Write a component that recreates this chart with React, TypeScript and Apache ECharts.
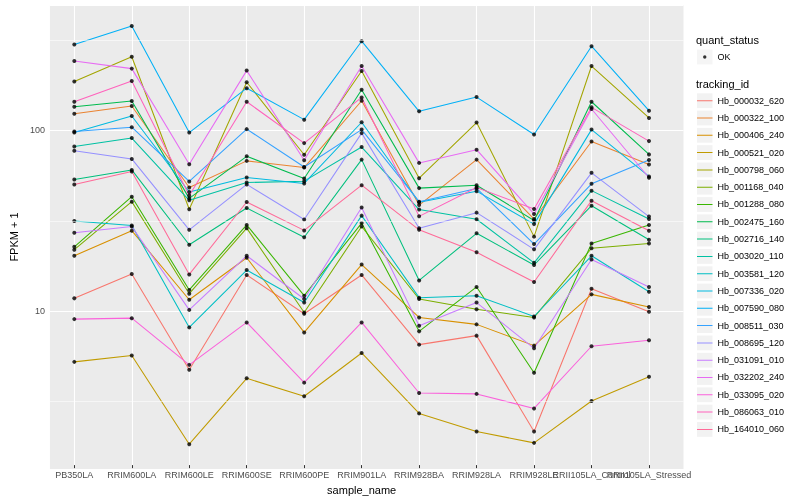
import React, { useEffect, useRef } from 'react';
import * as echarts from 'echarts';

const categories = [
  'PB350LA', 'RRIM600LA', 'RRIM600LE', 'RRIM600SE', 'RRIM600PE', 'RRIM901LA',
  'RRIM928BA', 'RRIM928LA', 'RRIM928LE', 'RRII105LA_Control', 'RRII105LA_Stressed',
];

const trackingIds = [
  'Hb_000032_620', 'Hb_000322_100', 'Hb_000406_240', 'Hb_000521_020', 'Hb_000798_060',
  'Hb_001168_040', 'Hb_001288_080', 'Hb_002475_160', 'Hb_002716_140', 'Hb_003020_110',
  'Hb_003581_120', 'Hb_007336_020', 'Hb_007590_080', 'Hb_008511_030', 'Hb_008695_120',
  'Hb_031091_010', 'Hb_032202_240', 'Hb_033095_020', 'Hb_086063_010', 'Hb_164010_060',
];

const colors = [
  '#F8766D', '#EA8331', '#D89000', '#C09B00', '#A3A500', '#7CAE00', '#39B600', '#00BB4E',
  '#00BF7D', '#00C1A3', '#00BFC4', '#00BAE0', '#00B0F6', '#35A2FF', '#9590FF', '#C77CFF',
  '#E76BF3', '#FA62DB', '#FF62BC', '#FF6A98',
];

// FPKM + 1 per sample (order of categories)
const hb_000032_620 = [11.4, 15.6, 4.55, 15.4, 9.35, 15.4, 6.29, 7.06, 2.06, 12.9, 9.59];
const hb_000322_100 = [122.3, 135.0, 47.4, 66.7, 61.2, 144.4, 37.8, 67.8, 31.6, 85.6, 63.6];
const hb_000406_240 = [19.7, 27.2, 11.2, 19.2, 7.36, 17.6, 8.92, 8.16, 6.21, 12.0, 10.2];
const hb_000521_020 = [5.04, 5.47, 1.75, 4.08, 3.24, 5.65, 2.6, 2.06, 1.78, 3.05, 4.16];
const hb_000798_060 = [184.9, 254.4, 35.8, 183.3, 72.2, 211.7, 53.4, 109.1, 25.2, 225.7, 115.8];
const hb_001168_040 = [21.3, 39.5, 12.1, 28.1, 9.5, 28.7, 11.3, 9.91, 8.92, 21.7, 23.1];
const hb_001288_080 = [22.1, 42.1, 12.7, 29.3, 11.8, 30.0, 7.46, 13.2, 4.38, 23.1, 29.3];
const hb_002475_160 = [133.8, 143.8, 41.2, 70.7, 53.2, 166.2, 47.0, 48.8, 31.0, 142.6, 72.5];
const hb_002716_140 = [52.5, 59.4, 22.7, 36.4, 25.0, 67.8, 14.35, 26.3, 17.5, 37.5, 24.2];
const hb_003020_110 = [80.3, 89.4, 40.2, 50.5, 51.4, 79.7, 35.7, 31.5, 18.0, 45.5, 31.6];
const hb_003581_120 = [30.8, 29.1, 7.85, 16.4, 10.8, 33.0, 11.5, 11.8, 9.03, 19.7, 12.4];
const hb_007336_020 = [96.0, 118.8, 44.7, 53.9, 49.9, 109.6, 39.2, 45.2, 29.6, 99.7, 54.6];
const hb_007590_080 = [297.6, 377.9, 96.0, 169.8, 113.3, 310.5, 126.1, 151.4, 93.6, 291.2, 127.1];
const hb_008511_030 = [97.2, 102.8, 51.2, 100.3, 61.7, 99.7, 39.5, 46.8, 22.9, 49.7, 67.5];
const hb_008695_120 = [76.0, 68.4, 27.5, 49.3, 31.4, 95.3, 28.1, 34.3, 21.4, 57.2, 32.6];
const hb_031091_010 = [26.5, 28.7, 9.83, 19.7, 11.3, 36.6, 8.02, 10.8, 6.0, 18.8, 13.2];
const hb_032202_240 = [240.5, 218.3, 63.8, 212.8, 67.2, 225.7, 65.0, 77.0, 33.7, 129.9, 53.7];
const hb_033095_020 = [8.73, 8.84, 4.85, 8.37, 3.86, 8.37, 3.38, 3.34, 2.77, 6.16, 6.65];
const hb_086063_010 = [142.6, 186.4, 42.8, 142.6, 83.8, 150.8, 32.7, 47.4, 35.9, 132.7, 86.0];
const hb_164010_060 = [49.3, 58.2, 15.5, 39.3, 27.3, 48.8, 27.5, 20.6, 14.06, 40.0, 27.2];

const seriesValues = [
  hb_000032_620, hb_000322_100, hb_000406_240, hb_000521_020, hb_000798_060,
  hb_001168_040, hb_001288_080, hb_002475_160, hb_002716_140, hb_003020_110,
  hb_003581_120, hb_007336_020, hb_007590_080, hb_008511_030, hb_008695_120,
  hb_031091_010, hb_032202_240, hb_033095_020, hb_086063_010, hb_164010_060,
];

const quantStatus = ['OK'];
const minorGridValues = [Math.pow(10, 0.5), Math.pow(10, 1.5), Math.pow(10, 2.5)];

const FONT = '"Liberation Sans", Arial, Helvetica, sans-serif';

const LINE_ICON = 'path://M0,0h0.001v0.001h-0.001zM0.999,0.999h0.001v0.001h-0.001zM0,0.465h1v0.07h-1z';
const DOT_ICON = 'path://M0,0h0.001v0.001h-0.001zM0.999,0.999h0.001v0.001h-0.001zM0.39,0.5a0.11,0.11 0 1,0 0.22,0a0.11,0.11 0 1,0 -0.22,0z';

export default function App() {
  const ref = useRef<HTMLDivElement>(null);

  useEffect(() => {
    if (!ref.current) return;
    const chart = echarts.init(ref.current, null, { renderer: 'svg' });

    // ggplot-like log-scale limits: data range expanded by 5% on each side (in log space)
    const all = seriesValues.flat();
    const lo = Math.log10(Math.min(...all));
    const hi = Math.log10(Math.max(...all));
    const pad = (hi - lo) * 0.05;
    const yMin = Math.pow(10, lo - pad);
    const yMax = Math.pow(10, hi + pad);

    const lineSeries = trackingIds.map((id, i) => ({
      type: 'line',
      name: id,
      xAxisIndex: 1,
      yAxisIndex: 1,
      data: seriesValues[i],
      symbol: 'none',
      showSymbol: false,
      silent: true,
      z: 2,
      lineStyle: { color: colors[i], width: 1.05 },
      itemStyle: { color: colors[i] },
      emphasis: { disabled: true },
    }));

    const pointSeries = trackingIds.map((id, i) => ({
      type: 'scatter',
      name: quantStatus[0],
      xAxisIndex: 1,
      yAxisIndex: 1,
      data: seriesValues[i].map((v, j) => [categories[j], v]),
      symbol: 'circle',
      symbolSize: 4,
      silent: true,
      z: 3,
      itemStyle: { color: '#000000' },
      emphasis: { disabled: true },
    }));

    const minorSeries = {
      type: 'line',
      name: '_minor',
      xAxisIndex: 0,
      yAxisIndex: 0,
      data: [[0, 10], [1, 10]],
      symbol: 'none',
      silent: true,
      z: 1,
      lineStyle: { opacity: 0, width: 0 },
      markLine: {
        silent: true,
        symbol: ['none', 'none'],
        label: { show: false },
        emphasis: { disabled: true },
        lineStyle: { color: '#FFFFFF', width: 0.55, type: 'solid', opacity: 1 },
        data: minorGridValues.map((v) => ({ yAxis: v })),
      },
    };

    const legendCommon = {
      orient: 'vertical',
      left: 697,
      padding: 0,
      itemWidth: 15.5,
      itemHeight: 14.8,
      itemGap: 2.5,
      selectedMode: false,
      symbolKeepAspect: false,
    };

    const option = {
      animation: false,
      textStyle: { fontFamily: FONT },
      title: [
        {
          text: 'quant_status',
          left: 696,
          top: 34.5,
          padding: 0,
          textStyle: { fontSize: 11, fontWeight: 'normal', color: '#000000', fontFamily: FONT },
        },
        {
          text: 'tracking_id',
          left: 696,
          top: 78,
          padding: 0,
          textStyle: { fontSize: 11, fontWeight: 'normal', color: '#000000', fontFamily: FONT },
        },
      ],
      legend: [
        {
          ...legendCommon,
          top: 49.6,
          icon: 'rect',
          itemStyle: { color: '#F2F2F2', borderWidth: 0 },
          textStyle: { fontSize: 9, color: '#000000', fontFamily: FONT },
          data: quantStatus,
        },
        {
          ...legendCommon,
          top: 49.6,
          icon: DOT_ICON,
          itemStyle: { color: '#000000', borderWidth: 0 },
          textStyle: { fontSize: 9, color: 'rgba(0,0,0,0)', fontFamily: FONT },
          data: quantStatus.map((n) => ({ name: n, itemStyle: { color: '#000000' } })),
        },
        {
          ...legendCommon,
          top: 93.3,
          icon: 'rect',
          itemStyle: { color: '#F2F2F2', borderWidth: 0 },
          textStyle: { fontSize: 9, color: '#000000', fontFamily: FONT },
          data: trackingIds,
        },
        {
          ...legendCommon,
          top: 93.3,
          icon: LINE_ICON,
          itemStyle: { borderWidth: 0 },
          textStyle: { fontSize: 9, color: 'rgba(0,0,0,0)', fontFamily: FONT },
          data: trackingIds.map((n, i) => ({ name: n, itemStyle: { color: colors[i] } })),
        },
      ],
      grid: [
        {
          left: 40,
          top: 5,
          width: 643.5,
          height: 464,
          show: true,
          backgroundColor: '#EBEBEB',
          borderWidth: 0,
        },
        {
          left: 74.3,
          top: 5,
          width: 574.7,
          height: 464,
        },
      ],
      xAxis: [
        { type: 'value', gridIndex: 0, min: 0, max: 1, show: false },
        {
          type: 'category',
          gridIndex: 1,
          data: categories,
          boundaryGap: false,
          axisLine: { show: false },
          axisTick: { show: true, interval: 0, length: 3, lineStyle: { color: '#333333', width: 1 } },
          axisLabel: { interval: 0, color: '#4D4D4D', fontSize: 9, margin: 5, fontFamily: FONT },
          splitLine: { show: true, interval: 0, lineStyle: { color: '#FFFFFF', width: 1.1 } },
          name: 'sample_name',
          nameLocation: 'middle',
          nameGap: 13,
          nameTextStyle: { fontSize: 11, color: '#000000', fontFamily: FONT },
        },
      ],
      yAxis: [
        {
          type: 'log',
          logBase: 10,
          gridIndex: 0,
          min: yMin,
          max: yMax,
          axisLine: { show: false },
          axisTick: { show: false },
          axisLabel: {
            color: '#4D4D4D',
            fontSize: 9,
            margin: 5,
            showMinLabel: false,
            showMaxLabel: false,
            fontFamily: FONT,
            formatter: (v: number) => String(Math.round(v)),
          },
          splitLine: { show: true, lineStyle: { color: '#FFFFFF', width: 1.1 } },
          name: 'FPKM + 1',
          nameLocation: 'middle',
          nameGap: 21,
          nameTextStyle: { fontSize: 11, color: '#000000', fontFamily: FONT },
        },
        {
          type: 'log',
          logBase: 10,
          gridIndex: 1,
          min: yMin,
          max: yMax,
          show: false,
          splitLine: { show: false },
        },
      ],
      series: [minorSeries, ...lineSeries, ...pointSeries],
    };

    chart.setOption(option as any);
    return () => chart.dispose();
  }, []);

  return (
    <div
      ref={ref}
      style={{ position: 'fixed', left: 0, top: 0, width: 800, height: 500 }}
    />
  );
}
